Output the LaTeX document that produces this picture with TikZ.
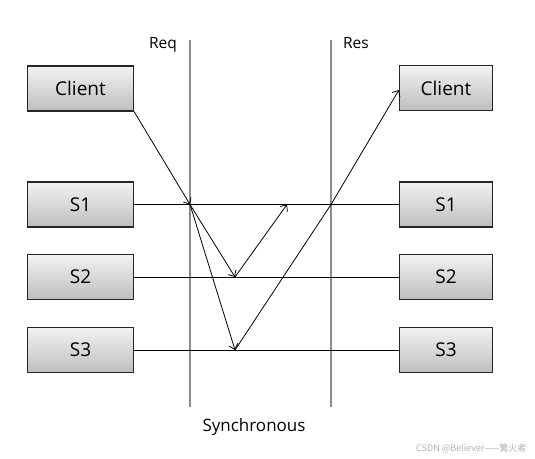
\documentclass[tikz,border=0pt]{standalone}
\usepackage{fontspec}
\setmainfont{Open Sans}
\newfontfamily\cjk{Noto Sans CJK SC}
\usetikzlibrary{arrows.meta}
\definecolor{boxtop}{HTML}{F2F2F2}
\definecolor{boxbot}{HTML}{BEBEBE}
\begin{document}
\begin{tikzpicture}[x=1pt,y=-1pt,
  boxL/.style={draw=black!85,line width=1.2pt,top color=boxtop,bottom color=boxbot,
    minimum width=106pt,minimum height=45pt,inner sep=0pt,font=\fontsize{19}{22}\selectfont},
  boxR/.style={boxL,minimum width=93pt},
  lane/.style={draw=black!45,line width=1.4pt},
  wire/.style={draw=black,line width=0.9pt},
  msg/.style={draw=black,line width=0.8pt,-{Straight Barb[length=5pt,width=9pt]}},
  lbl/.style={font=\fontsize{15.5}{18}\selectfont,anchor=base},
]
\useasboundingbox (0,0) rectangle (535,458);
\fill[white] (0,0) rectangle (535,458);
% lanes
\coordinate (reqTop) at (190,40);
\coordinate (reqBot) at (190,407);
\coordinate (resTop) at (331,40);
\coordinate (resBot) at (331,407);
\draw[lane] (reqTop) -- (reqBot);
\draw[lane] (resTop) -- (resBot);
\node[lbl] (req) at (163,48) {Req};
\node[lbl] (res) at (356,48) {Res};
\node[font=\fontsize{17}{20}\selectfont,anchor=base] (sync) at (254,431) {Synchronous};
% boxes
\node[boxL] (clientL) at (80.5,88.5) {Client};
\node[boxL] (s1L) at (80.5,204.5) {S1};
\node[boxL] (s2L) at (80.5,277) {S2};
\node[boxL] (s3L) at (80.5,350) {S3};
\node[boxR] (clientR) at (446,88) {Client};
\node[boxR] (s1R) at (446,204.5) {S1};
\node[boxR] (s2R) at (446,277) {S2};
\node[boxR] (s3R) at (446,350) {S3};
% wires
\draw[wire] (s1L.east) -- (s1R.west);
\draw[wire] (s2L.east) -- (s2R.west);
\draw[wire] (s3L.east) -- (s3R.west);
% junctions
\coordinate (j1) at (190,204.5);
\coordinate (m2) at (235,277);
\coordinate (m3) at (235,350);
\coordinate (t1) at (287,204.5);
\coordinate (k1) at (331,204.5);
% messages
\draw[msg] (clientL.south east) -- (j1);
\draw[msg] (j1) -- (m2);
\draw[msg] (j1) -- (m3);
\draw[msg] (m2) -- (t1);
\draw[msg] (m3) -- (k1) -- (clientR.west |- 0,90);
% watermark
\node[font=\cjk\fontsize{9}{10}\selectfont,text=black!30,anchor=base east] (wm) at (530,451) {CSDN @Believer——篝火者};
\end{tikzpicture}
\end{document}
